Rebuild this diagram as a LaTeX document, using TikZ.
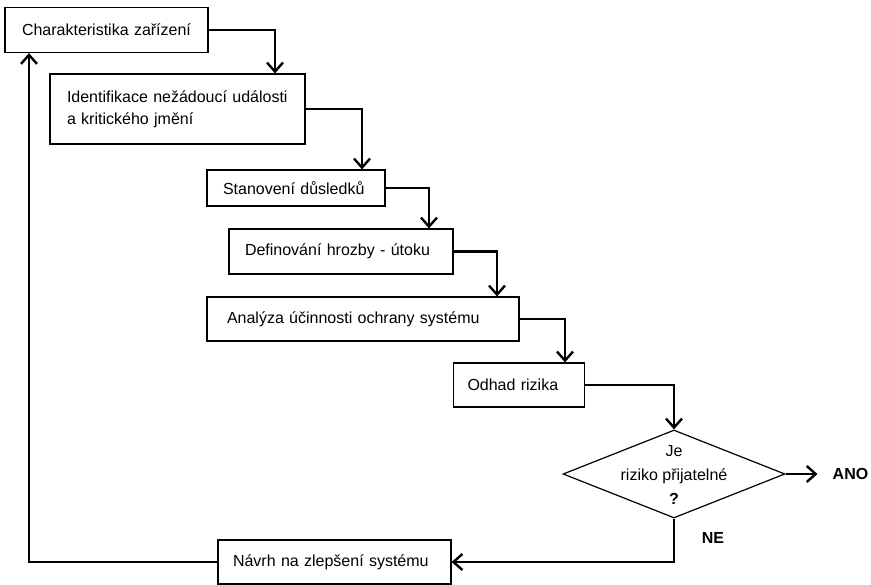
\documentclass[tikz,border=0pt]{standalone}
\usepackage{fontspec}
\setmainfont{Liberation Sans}
\usetikzlibrary{shapes.geometric,arrows.meta}
\begin{document}
\begin{tikzpicture}[x=1pt,y=-1pt,
  font=\fontsize{16}{19}\selectfont,
  box/.style={draw=black, line width=1.2pt, rectangle, align=left, inner ysep=0pt},
  conn/.style={line width=2.8pt, -{Straight Barb[length=9pt,width=16pt,line width=2.4pt]}},
  lbl/.style={font=\fontsize{16}{19}\selectfont\bfseries}
]
\useasboundingbox (0,0) rectangle (871,585);
\fill[white] (0,0) rectangle (871,585);
% boxes
\node[box, minimum width=203, minimum height=45, inner xsep=17, text width=169] (b1) at (106.5,30) {\mbox{Charakteristika zařízení}};
\node[box, minimum width=255, minimum height=70, inner xsep=17, text width=221] (b2) at (177.5,109) {\mbox{Identifikace nežádoucí události}\\[3pt]\mbox{a kritického jmění}};
\node[box, minimum width=178, minimum height=36, inner xsep=16, text width=146] (b3) at (296,188) {\mbox{Stanovení důsledků}};
\node[box, minimum width=224, minimum height=45, inner xsep=16, text width=192] (b4) at (341,251.5) {\mbox{Definování hrozby - útoku}};
\node[box, minimum width=312, minimum height=44, inner xsep=20, text width=272] (b5) at (363,319) {\mbox{Analýza účinnosti ochrany systému}};
\node[box, minimum width=131, minimum height=44, inner xsep=14, text width=103] (b6) at (519,385) {\mbox{Odhad rizika}};
\node[diamond, draw=black, line width=1.2pt, minimum width=222, minimum height=88, inner sep=0pt, aspect=2.52] (d) at (674,474) {};
\node[align=center, font=\fontsize{16}{24}\selectfont] (dt) at (674,475) {Je\\riziko přijatelné\\\textbf{?}};
\node[box, minimum width=233, minimum height=44, inner xsep=15, text width=203] (nav) at (334.5,562) {\mbox{Návrh na zlepšení systému}};
\node[lbl, inner xsep=15] (ano) at (850.5,474) {ANO};
\node[lbl] (ne) at (713,538) {NE};
% connectors
\draw[conn] (b1.east) -| ([xshift=97.5]b2.north);
\draw[conn] (b2.east) -| ([xshift=66]b3.north);
\draw[conn] (b3.east) -| ([xshift=88]b4.north);
\draw[conn] (b4.east) -| ([xshift=134]b5.north);
\draw[conn] (b5.east) -| ([xshift=46]b6.north);
\draw[conn] (b6.east) -| (d.north);
\draw[conn] (d.east) -- (ano.west);
\draw[conn] (d.south) |- (nav.east);
\draw[conn] (nav.west) -| ([xshift=-77.5]b1.south);
\end{tikzpicture}
\end{document}
